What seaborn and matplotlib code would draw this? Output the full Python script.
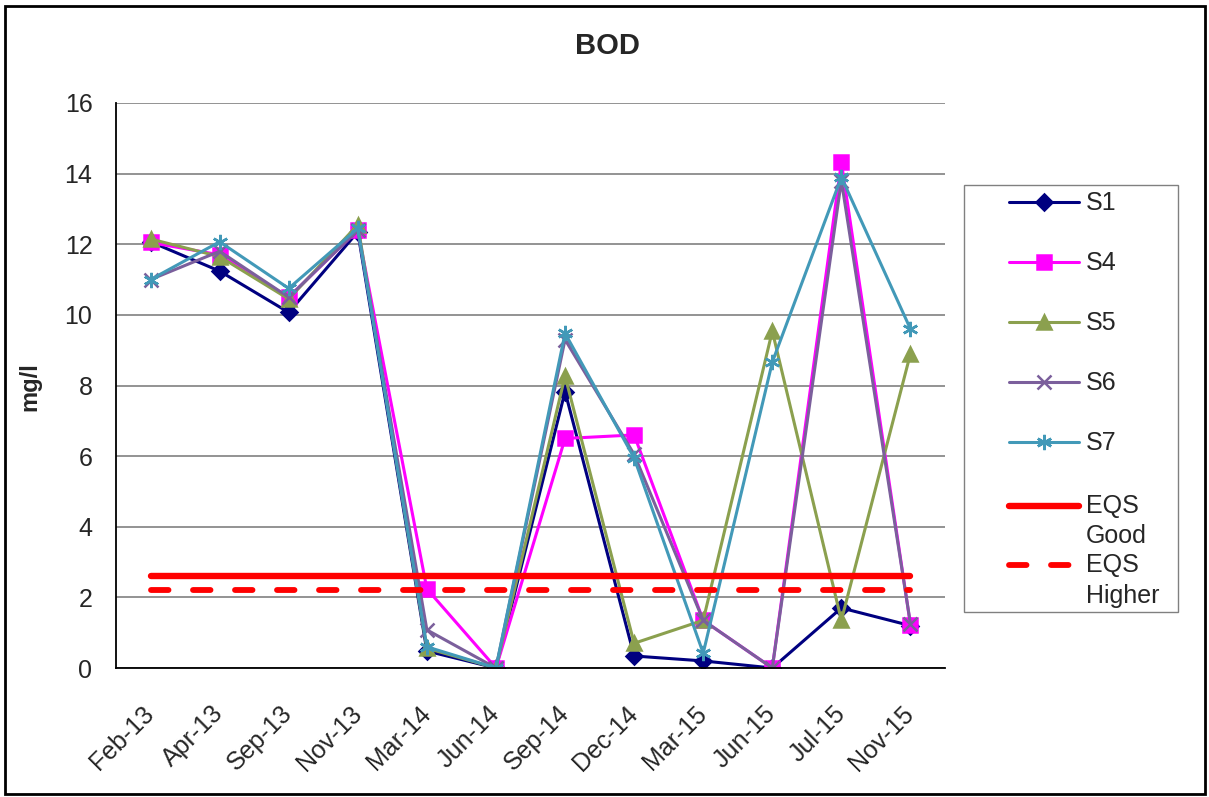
import numpy as np
import pandas as pd
import matplotlib.pyplot as plt
import seaborn as sns
from matplotlib.patches import Rectangle

dates = ['Feb-13', 'Apr-13', 'Sep-13', 'Nov-13', 'Mar-14', 'Jun-14',
         'Sep-14', 'Dec-14', 'Mar-15', 'Jun-15', 'Jul-15', 'Nov-15']

s1 = [12.07, 11.24, 10.07, 12.35, 0.48, 0.0, 7.83, 0.34, 0.2, 0.0, 1.7, 1.2]
s4 = [12.05, 11.7, 10.5, 12.4, 2.24, 0.0, 6.5, 6.6, 1.35, 0.0, 14.32, 1.22]
s5 = [12.15, 11.65, 10.45, 12.55, 0.56, 0.0, 8.27, 0.7, 1.35, 9.54, 1.35, 8.9]
s6 = [11.0, 11.8, 10.5, 12.4, 1.08, 0.0, 9.3, 6.05, 1.35, 0.0, 13.8, 1.25]
s7 = [11.0, 12.07, 10.75, 12.45, 0.6, 0.0, 9.48, 5.95, 0.42, 8.66, 13.9, 9.6]

eqs_good = 2.6
eqs_higher = 2.2

series = {'S1': s1, 'S4': s4, 'S5': s5, 'S6': s6, 'S7': s7}
colors = {'S1': '#000080', 'S4': '#FF00FF', 'S5': '#8BA04E',
          'S6': '#7B5F9C', 'S7': '#4299B8'}
markers = {'S1': 'D', 'S4': 's', 'S5': '^', 'S6': 'x', 'S7': (6, 2, 0)}
msizes = {'S1': 8, 'S4': 10, 'S5': 10, 'S6': 9.5, 'S7': 11}

df = pd.DataFrame(series)
df['Date'] = dates
df['x'] = np.arange(len(dates))
long = df.melt(id_vars=['Date', 'x'], var_name='Site', value_name='BOD')

sns.set_style('white')
plt.rcParams['font.family'] = ['Liberation Sans', 'DejaVu Sans']

W, H = 1209, 797
fig = plt.figure(figsize=(W / 100, H / 100), dpi=100)
ax = fig.add_axes([116 / W, 1 - 668 / H, (945 - 116) / W, (668 - 103) / H])

for name in series:
    sub = long[long['Site'] == name]
    sns.lineplot(data=sub, x='x', y='BOD', ax=ax, color=colors[name],
                 marker=markers[name], markersize=msizes[name],
                 markeredgecolor=colors[name], markeredgewidth=1.8,
                 linewidth=2.2, label=name)

ax.plot(df['x'], [eqs_good] * len(dates), color='red', linewidth=4.6,
        label='EQS\nGood', solid_capstyle='round')
ax.plot(df['x'], [eqs_higher] * len(dates), color='red', linewidth=4.2,
        linestyle=(0, (3, 4.2)), dash_capstyle='round', label='EQS\nHigher')

ax.set_xlim(-0.5, len(dates) - 0.5)
ax.set_ylim(0, 16)
ax.set_yticks(range(0, 17, 2))
ax.set_xticks(df['x'])
ax.set_xticklabels(dates, rotation=45, ha='right', va='center',
                   rotation_mode='anchor')
ax.tick_params(axis='both', labelsize=18, length=0)
ax.tick_params(axis='y', pad=17)
ax.tick_params(axis='x', pad=30)
ax.grid(axis='y', color='#808080', linewidth=1.2)
ax.set_axisbelow(True)
for side in ['top', 'right']:
    ax.spines[side].set_visible(False)
for side in ['left', 'bottom']:
    ax.spines[side].set_color('black')
    ax.spines[side].set_linewidth(1.3)

ax.set_xlabel('')
ax.set_ylabel('')
fig.text(30 / W, 1 - 387 / H, 'mg/l', rotation=90, ha='center', va='center',
         fontsize=17, fontweight='bold')
fig.text(607 / W, 1 - 46 / H, 'BOD', ha='center', va='center',
         fontsize=21, fontweight='bold')

# legend: frame drawn by hand, two frameless legends inside it
handles, labels = ax.get_legend_handles_labels()
if ax.get_legend():
    ax.get_legend().remove()

common = dict(loc='upper left', bbox_transform=fig.transFigure, fontsize=18,
              frameon=False, borderpad=0, handlelength=2.8,
              handletextpad=0.3)
leg1 = ax.legend(handles[:5], labels[:5], bbox_to_anchor=(996 / W, 1 - 179 / H),
                 labelspacing=1.44, **common)
ax.add_artist(leg1)
leg2 = ax.legend(handles[5:], labels[5:], bbox_to_anchor=(996 / W, 1 - 481 / H),
                 labelspacing=0.2, **common)
for t in leg2.get_texts():
    t.set_linespacing(1.35)
for h in leg2.legend_handles:
    h.set_ydata(np.asarray(h.get_ydata()) + 11.5)

fig.patches.append(Rectangle((964 / W, 1 - 612 / H), (1178 - 964) / W,
                             (612 - 185) / H, transform=fig.transFigure,
                             fill=False, edgecolor='#808080', linewidth=1.0))
fig.patches.append(Rectangle((5 / W, 3 / H), 1200 / W, 788 / H,
                             transform=fig.transFigure, fill=False,
                             edgecolor='black', linewidth=2))

fig.savefig('out.png', dpi=100)
